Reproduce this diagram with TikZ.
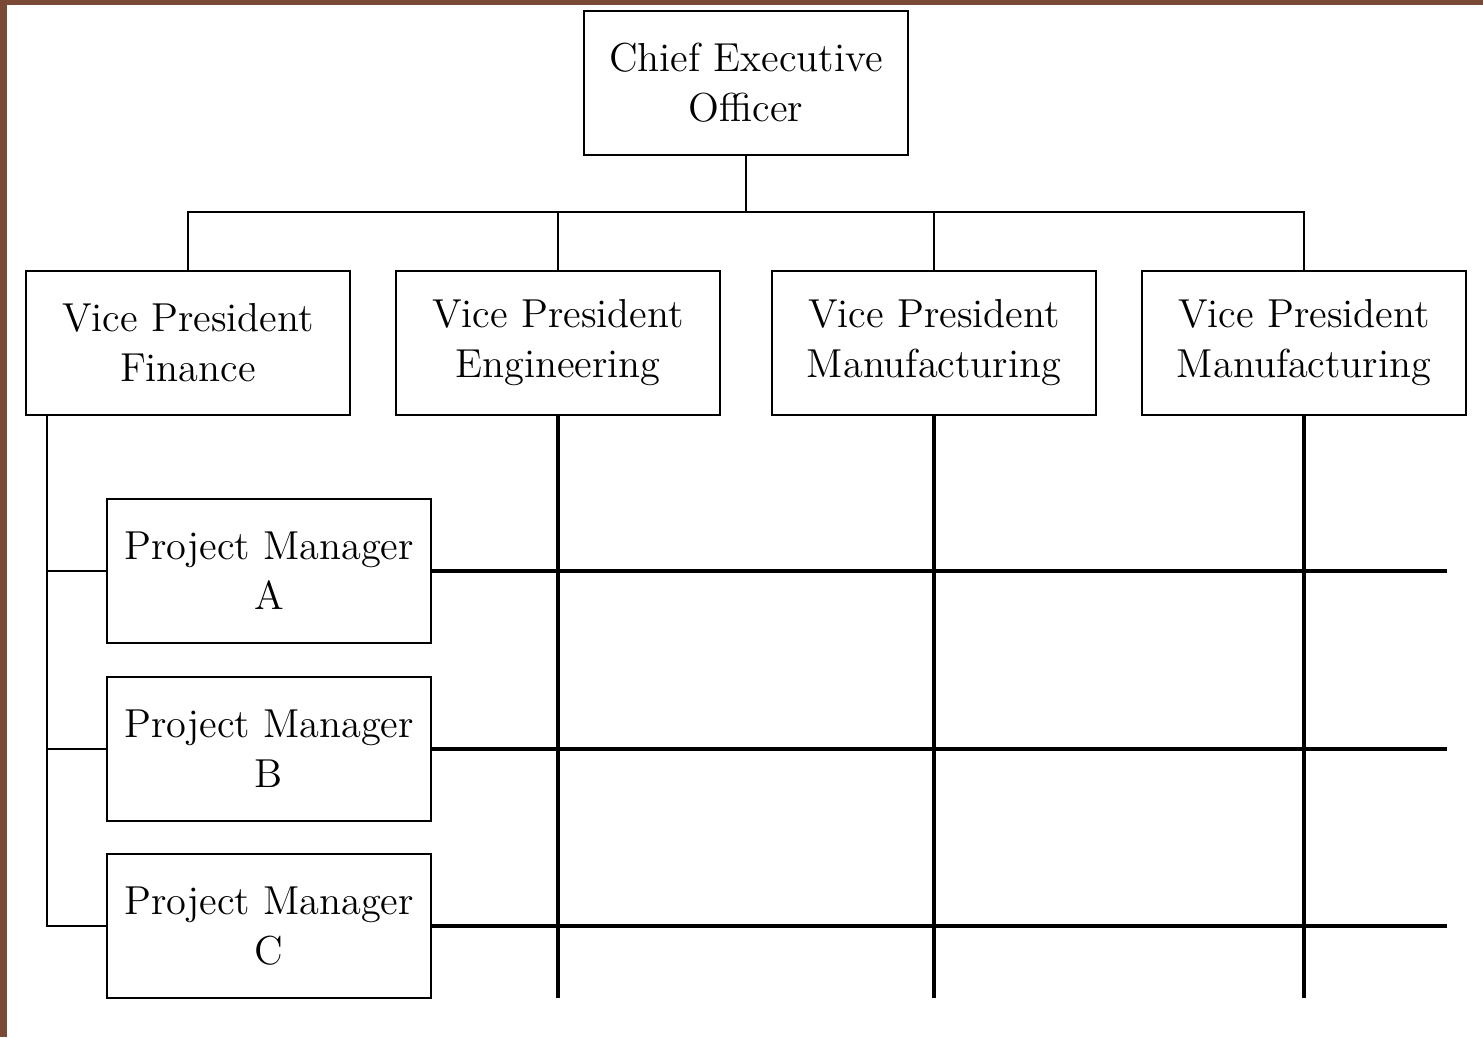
\documentclass[tikz,border=0pt]{standalone}
\definecolor{frame}{HTML}{7A4A36}
\begin{document}
\begin{tikzpicture}[x=0.01cm,y=-0.01cm,font=\fontsize{11.5}{14.2}\selectfont,
  box/.style={draw,line width=0.6pt,minimum width=3.24cm,minimum height=1.44cm,align=center,inner sep=0pt},
  thinline/.style={line width=0.6pt},
  gridline/.style={line width=1.2pt}]
\fill[frame](0,0) rectangle (1483,1037);
\fill[white](7,5) rectangle (1483,1037);
\node[box] (ceo) at (746,83) {Chief Executive\\Officer};
\node[box] (fin) at (188,343) {Vice President\\Finance};
\node[box] (eng) at (558,343) {Vice President\\Engineering};
\node[box] (mfg) at (934,343) {Vice President\\Manufacturing};
\node[box] (mfgb) at (1304,343) {Vice President\\Manufacturing};
\node[box] (pma) at (269,571) {Project Manager\\A};
\node[box] (pmb) at (269,749) {Project Manager\\B};
\node[box] (pmc) at (269,926) {Project Manager\\C};
\coordinate (bus) at (746,212);
\coordinate (spine) at (47,415);
\coordinate (bottom) at (0,998);
\coordinate (right) at (1447,0);
\draw[thinline](ceo.south)--(bus);
\draw[thinline](fin.north)|-(bus)-|(mfgb.north);
\draw[thinline](eng.north)--(eng.north |- bus);
\draw[thinline](mfg.north)--(mfg.north |- bus);
\draw[thinline](spine)|-(pmc.west);
\draw[thinline](spine |- pma.west)--(pma.west);
\draw[thinline](spine |- pmb.west)--(pmb.west);
\draw[gridline](eng.south)--(eng.south |- bottom);
\draw[gridline](mfg.south)--(mfg.south |- bottom);
\draw[gridline](mfgb.south)--(mfgb.south |- bottom);
\draw[gridline](pma.east)--(pma.east -| right);
\draw[gridline](pmb.east)--(pmb.east -| right);
\draw[gridline](pmc.east)--(pmc.east -| right);
\end{tikzpicture}
\end{document}
